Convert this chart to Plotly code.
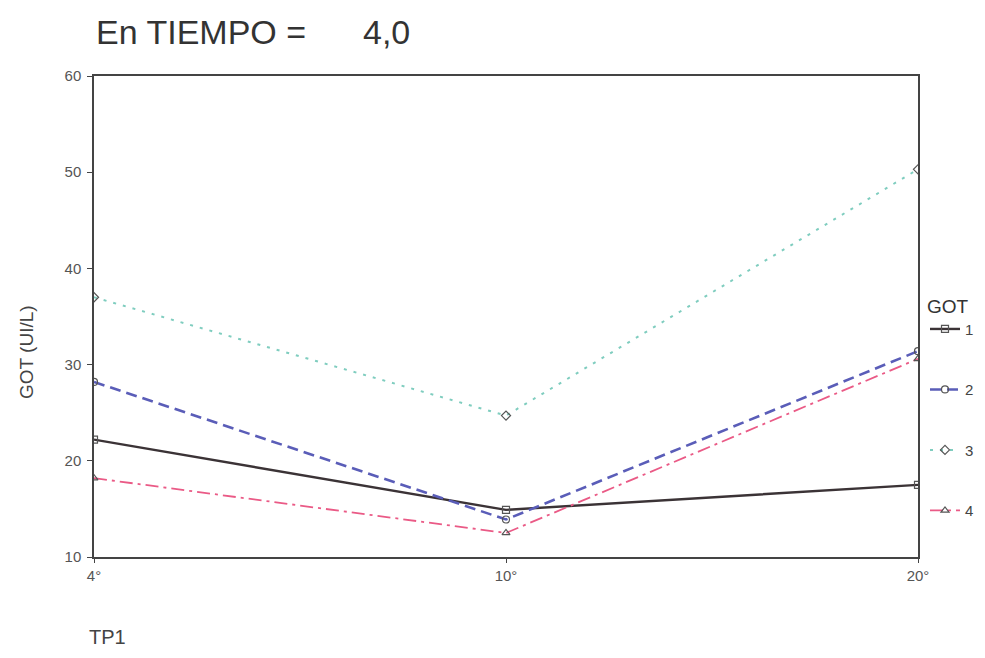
import plotly.graph_objects as go

categories = ["4°", "10°", "20°"]
series_names = ["1", "2", "3", "4"]
got_1 = [22.2, 14.9, 17.5]
got_2 = [28.2, 13.9, 31.4]
got_3 = [37.0, 24.7, 50.3]
got_4 = [18.2, 12.5, 30.6]
y_ticks = [10, 20, 30, 40, 50, 60]

values = [got_1, got_2, got_3, got_4]
line_colors = ["#3b3336", "#5a5db8", "#7fcdbf", "#ea5a86"]
dashes = ["solid", "11px,6px", "3px,7px", "13px,5px,3px,5px"]
widths = [2.4, 2.6, 2.0, 1.8]
symbols = ["square-open", "circle-open", "diamond-open", "triangle-up-open"]

fig = go.Figure()
for name, vals, c, d, w, s in zip(series_names, values, line_colors, dashes, widths, symbols):
    fig.add_trace(go.Scatter(
        x=categories, y=vals, name=name, legendgroup=name, mode="lines+markers",
        line=dict(color=c, dash=d, width=w),
        marker=dict(symbol=s, size=7, color="#555555", line=dict(width=1.2, color="#555555")),
    ))

# screen offset of 7px (page body margin) compensated in margins
L, T, R, B = 86, 68, 75, 109
PW = 985 - L - R
PH = 658 - T - B
X0, Y0 = 93, 557  # plot-area bottom-left on screen


def px(xs):
    return (xs - X0) / PW


def py(ys):
    return (Y0 - ys) / PH


fig.update_layout(
    width=985, height=658,
    paper_bgcolor="white", plot_bgcolor="white",
    margin=dict(l=L, r=R, t=T, b=B),
    font=dict(family="Liberation Sans, Arial, sans-serif", color="#444444", size=14),
    showlegend=True,
    legend=dict(
        x=px(924), y=py(288), xanchor="left", yanchor="top",
        title=dict(text="GOT", font=dict(size=19, color="#333333")),
        font=dict(size=15, color="#444444"),
        tracegroupgap=38, itemwidth=30,
        bgcolor="rgba(0,0,0,0)",
    ),
    annotations=[
        dict(text="En TIEMPO =", x=px(93), y=py(32), xref="paper", yref="paper",
             showarrow=False, xanchor="left", yanchor="middle",
             font=dict(size=34, color="#333333")),
        dict(text="4,0", x=px(360), y=py(32), xref="paper", yref="paper",
             showarrow=False, xanchor="left", yanchor="middle",
             font=dict(size=34, color="#333333")),
        dict(text="TP1", x=px(86), y=py(637), xref="paper", yref="paper",
             showarrow=False, xanchor="left", yanchor="middle",
             font=dict(size=20, color="#444444")),
        dict(text="GOT (UI/L)", x=px(25), y=py(352), xref="paper", yref="paper",
             showarrow=False, xanchor="center", yanchor="middle", textangle=-90,
             font=dict(size=19, color="#444444")),
    ],
)

fig.update_xaxes(
    type="category", range=[0, 2],
    showline=True, linecolor="#444444", linewidth=1.5, mirror=True,
    showgrid=False, zeroline=False,
    ticks="outside", ticklen=4, tickcolor="#444444",
    tickfont=dict(size=15, color="#555555"),
)
fig.update_yaxes(
    range=[10, 60], tickvals=y_ticks,
    showline=True, linecolor="#444444", linewidth=1.5, mirror=True,
    showgrid=False, zeroline=False,
    ticks="outside", ticklen=5, tickcolor="#444444", ticklabelstandoff=3,
    tickfont=dict(size=15, color="#555555"),
)

fig.write_html("out.html")
